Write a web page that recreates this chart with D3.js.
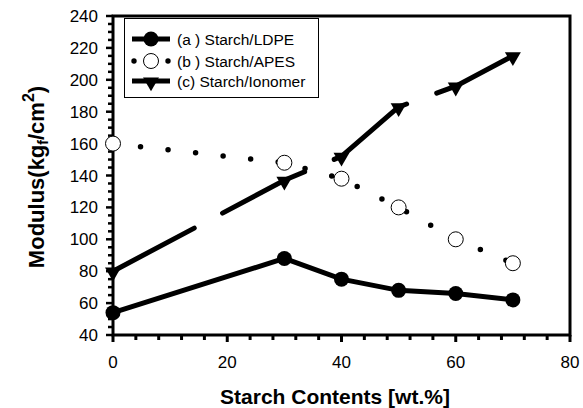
<!DOCTYPE html>
<html lang="en">
<head>
<meta charset="UTF-8" />
<title>Modulus vs Starch Contents</title>
<style>
  body { margin: 0; background: #fff; }
  svg { display: block; font-family: 'Liberation Sans', Arial, sans-serif; }
  .frame { fill: none; stroke: #000; stroke-width: 3; }
  .tick-label { font-size: 17px; fill: #000; }
  .axis-title { font-weight: bold; fill: #000; }
  .legend-text { font-size: 15.5px; fill: #000; }
</style>
<script src="https://d3js.org/d3.v7.min.js"></script>
</head>
<body>
<div id="chart"></div>
<script>
  // data
  const starch = [0, 30, 40, 50, 60, 70];
  const ldpe = [54, 88, 75, 68, 66, 62];
  const apes = [160, 148, 138, 120, 100, 85];
  const ionomer = [80, 137, 152, 183, 196, 215];
  const xTicks = [0, 20, 40, 60, 80];
  const yTicks = [40, 60, 80, 100, 120, 140, 160, 180, 200, 220, 240];
  const legendLabels = ['(a ) Starch/LDPE', '(b ) Starch/APES', '(c)  Starch/Ionomer'];

  const width = 583, height = 408;
  const m = { left: 113, right: 13, top: 16, bottom: 73 };

  const svg = d3.select('#chart').append('svg')
    .attr('width', width).attr('height', height);

  const x = d3.scaleLinear().domain([0, 80]).range([m.left, width - m.right]);
  const y = d3.scaleLinear().domain([40, 240]).range([height - m.bottom, m.top]);

  // minor ticks
  const g = svg.append('g');
  g.selectAll('.xminor').data(d3.range(0, 81, 4)).enter().append('line')
    .attr('x1', d => x(d)).attr('x2', d => x(d))
    .attr('y1', y(40)).attr('y2', d => y(40) + (d % 20 === 0 ? 7 : 5))
    .attr('stroke', '#000').attr('stroke-width', 3);
  g.selectAll('.yminor').data(d3.range(40, 241, 5)).enter().append('line')
    .attr('y1', d => y(d)).attr('y2', d => y(d))
    .attr('x1', x(0)).attr('x2', d => x(0) - (d % 20 === 0 ? 7 : 5))
    .attr('stroke', '#000').attr('stroke-width', 2.5);

  // tick labels
  svg.selectAll('.xl').data(xTicks).enter().append('text')
    .attr('class', 'tick-label')
    .attr('x', d => x(d)).attr('y', 368)
    .attr('text-anchor', 'middle').text(d => d);
  svg.selectAll('.yl').data(yTicks).enter().append('text')
    .attr('class', 'tick-label')
    .attr('x', 98).attr('y', d => y(d) + 6)
    .attr('text-anchor', 'end').text(d => d);

  // frame
  svg.append('rect').attr('class', 'frame')
    .attr('x', x(0)).attr('y', y(240))
    .attr('width', x(80) - x(0)).attr('height', y(40) - y(240));

  const line = d3.line().x((d, i) => x(starch[i])).y(d => y(d));

  // (c) ionomer - long dashes
  svg.append('path').datum(ionomer)
    .attr('d', line).attr('fill', 'none')
    .attr('stroke', '#000').attr('stroke-width', 5)
    .attr('stroke-linecap', 'round')
    .attr('stroke-dasharray', '92,32');
  const tri = d3.symbol().type(d3.symbolTriangle).size(110);
  svg.selectAll('.tri').data(ionomer).enter().append('path')
    .attr('d', tri)
    .attr('transform', (d, i) => `translate(${x(starch[i])},${y(d) + 1}) rotate(180)`)
    .attr('fill', '#000');

  // (b) apes - dotted
  svg.append('path').datum(apes)
    .attr('d', line).attr('fill', 'none')
    .attr('stroke', '#000').attr('stroke-width', 5.5)
    .attr('stroke-linecap', 'round')
    .attr('stroke-dasharray', '0,27.7');
  svg.selectAll('.oc').data(apes).enter().append('circle')
    .attr('cx', (d, i) => x(starch[i])).attr('cy', d => y(d))
    .attr('r', 7.5).attr('fill', '#fff').attr('stroke', '#000').attr('stroke-width', 1);

  // (a) ldpe - solid
  svg.append('path').datum(ldpe)
    .attr('d', line).attr('fill', 'none')
    .attr('stroke', '#000').attr('stroke-width', 5);
  svg.selectAll('.fc').data(ldpe).enter().append('circle')
    .attr('cx', (d, i) => x(starch[i])).attr('cy', d => y(d))
    .attr('r', 7.5).attr('fill', '#000');

  // legend
  const lg = svg.append('g');
  lg.append('rect').attr('x', 124.5).attr('y', 18.5).attr('width', 194).attr('height', 79)
    .attr('fill', '#fff').attr('stroke', '#000').attr('stroke-width', 1);
  const rowY = [39, 61, 81];
  // row a
  lg.append('line').attr('x1', 132).attr('x2', 170).attr('y1', rowY[0]).attr('y2', rowY[0])
    .attr('stroke', '#000').attr('stroke-width', 5);
  lg.append('circle').attr('cx', 151).attr('cy', rowY[0]).attr('r', 7.5).attr('fill', '#000');
  // row b
  lg.selectAll('.ld').data([134, 168]).enter().append('circle')
    .attr('cx', d => d).attr('cy', rowY[1]).attr('r', 2.7).attr('fill', '#000');
  lg.append('circle').attr('cx', 151).attr('cy', rowY[1]).attr('r', 7.5)
    .attr('fill', '#fff').attr('stroke', '#000').attr('stroke-width', 1);
  // row c
  lg.append('line').attr('x1', 132).attr('x2', 170).attr('y1', rowY[2]).attr('y2', rowY[2])
    .attr('stroke', '#000').attr('stroke-width', 5);
  lg.append('path').attr('d', tri)
    .attr('transform', `translate(151,${rowY[2] + 1}) rotate(180)`).attr('fill', '#000');

  lg.selectAll('.lt').data(legendLabels).enter().append('text')
    .attr('class', 'legend-text')
    .attr('x', 177).attr('y', (d, i) => rowY[i] + 5.5)
    .text(d => d);

  // axis titles
  svg.append('text').attr('class', 'axis-title')
    .attr('x', 335).attr('y', 404).attr('text-anchor', 'middle')
    .attr('font-size', 21).text('Starch Contents [wt.%]');

  const yt = svg.append('text').attr('class', 'axis-title')
    .attr('transform', 'translate(44,177) rotate(-90)')
    .attr('text-anchor', 'middle').attr('font-size', 22);
  yt.append('tspan').text('Modulus(kg');
  yt.append('tspan').attr('font-size', 14).attr('dy', 4).text('f');
  yt.append('tspan').attr('dy', -4).text('/cm');
  yt.append('tspan').attr('font-size', 16).attr('dy', -10).text('2');
  yt.append('tspan').attr('dy', 10).text(')');
</script>
</body>
</html>
